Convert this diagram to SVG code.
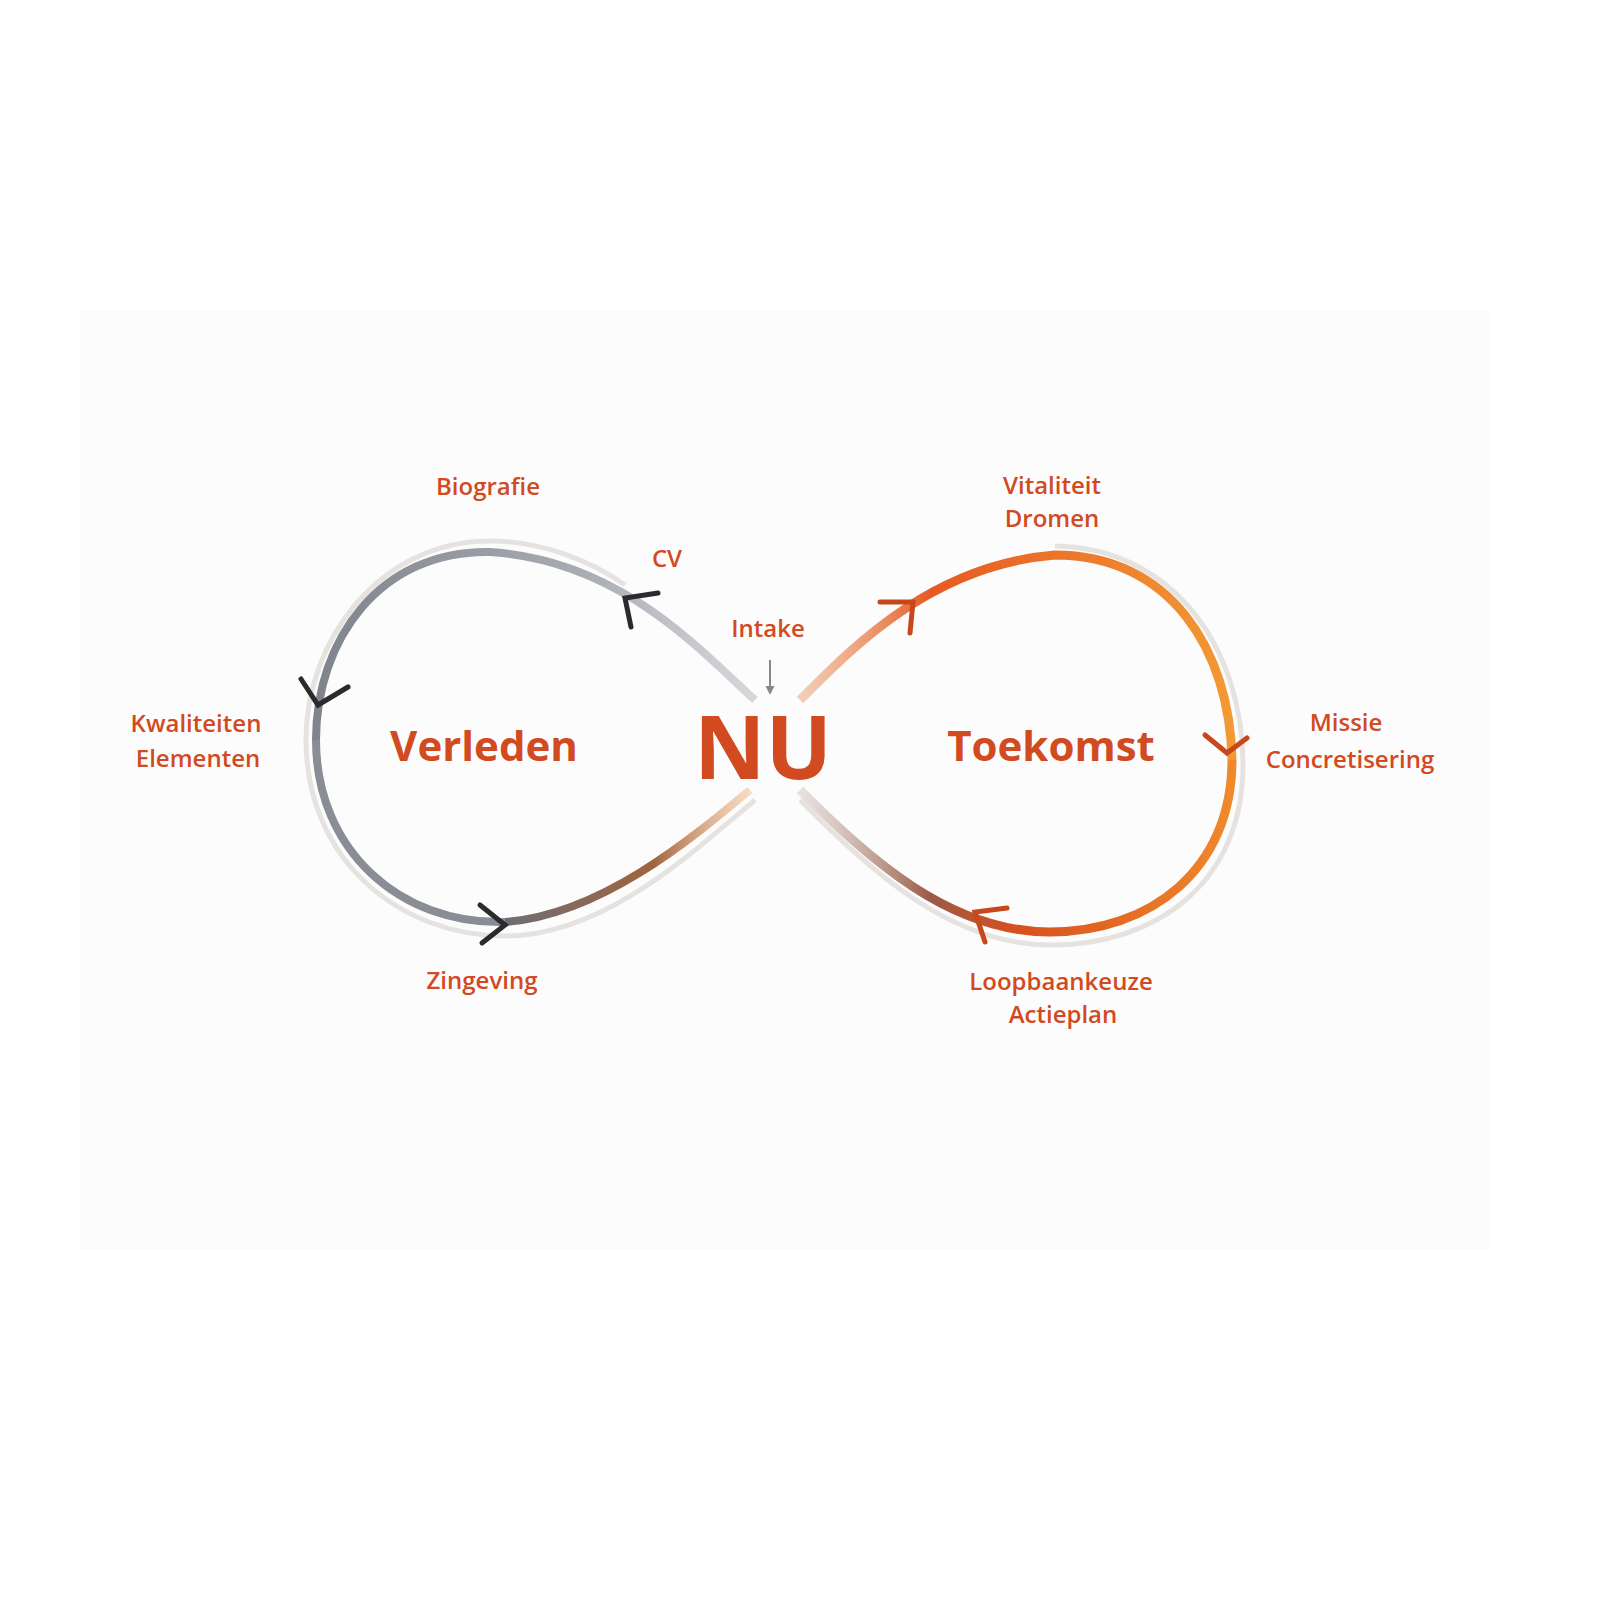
<svg xmlns="http://www.w3.org/2000/svg" width="1600" height="1600" viewBox="0 0 1600 1600">
<defs>
<style>
.lbl{font-family:"Open Sans","Liberation Sans",sans-serif;font-weight:600;font-size:24px;fill:#d24a1f;text-anchor:middle}
.big{font-family:"Open Sans","Liberation Sans",sans-serif;font-weight:700;fill:#d24a1f;text-anchor:middle}
.chev{fill:none;stroke-width:5;stroke-linecap:round;stroke-linejoin:miter}
.shadow{fill:none;stroke:#e6e2e0;stroke-width:5}
</style>
<linearGradient id="gl" x1="315" y1="0" x2="760" y2="0" gradientUnits="userSpaceOnUse">
<stop offset="0" stop-color="#7f838c"/><stop offset="0.6" stop-color="#a9acb3"/><stop offset="1" stop-color="#d8d9dc"/>
</linearGradient>
<linearGradient id="glb" x1="500" y1="0" x2="755" y2="0" gradientUnits="userSpaceOnUse">
<stop offset="0" stop-color="#6c6e76"/><stop offset="0.6" stop-color="#a0643f"/><stop offset="1" stop-color="#f3b27a" stop-opacity="0.4"/>
</linearGradient>
<linearGradient id="gr" x1="800" y1="0" x2="1235" y2="0" gradientUnits="userSpaceOnUse">
<stop offset="0" stop-color="#e9a070" stop-opacity="0.5"/><stop offset="0.3" stop-color="#e65a22"/><stop offset="1" stop-color="#f39a34"/>
</linearGradient>
<linearGradient id="grb" x1="800" y1="0" x2="1235" y2="0" gradientUnits="userSpaceOnUse">
<stop offset="0" stop-color="#c8b8b4" stop-opacity="0.4"/><stop offset="0.3" stop-color="#9b5a45"/><stop offset="0.5" stop-color="#d8501e"/><stop offset="1" stop-color="#f08a2c"/>
</linearGradient>
</defs>
<rect width="1600" height="1600" fill="#ffffff"/>
<rect x="80" y="310" width="1410" height="940" fill="#fcfcfc"/>
<g id="connectors">
<path class="shadow" d="M 625 585 C 590 560, 540 541, 490 541 C 380 541, 306 640, 306 740 C 306 860, 400 936, 505 936 C 605 936, 695 850, 755 800"/>
<path class="shadow" d="M 1055 546 C 1175 548, 1243 650, 1243 765 C 1243 880, 1160 945, 1050 945 C 950 945, 870 870, 800 800"/>
<path d="M 755 700 C 700 650, 620 560, 490 552 C 380 550, 316 640, 316 740" fill="none" stroke="url(#gl)" stroke-width="8"/>
<path d="M 316 740 C 316 850, 400 925, 505 922" fill="none" stroke="#8a8d96" stroke-width="8"/>
<path d="M 505 922 C 600 915, 690 840, 750 790" fill="none" stroke="url(#glb)" stroke-width="8"/>
<path d="M 800 700 C 850 650, 930 565, 1055 555 C 1170 555, 1230 650, 1232 760" fill="none" stroke="url(#gr)" stroke-width="9"/>
<path d="M 1232 760 C 1232 870, 1150 932, 1050 932 C 950 932, 870 860, 800 790" fill="none" stroke="url(#grb)" stroke-width="9"/>
<polyline class="chev" stroke="#2b2b2e" points="658,593 625,598 631,627"/>
<polyline class="chev" stroke="#2b2b2e" points="301,679 318,705 348,687"/>
<polyline class="chev" stroke="#2b2b2e" points="480,905 505,925 482,943"/>
<polyline class="chev" stroke="#c8481c" points="880,602 913,602 910,633"/>
<polyline class="chev" stroke="#c8481c" points="1205,735 1227,753 1247,738"/>
<polyline class="chev" stroke="#c8481c" points="1007,908 975,912 985,942"/>
<line x1="770" y1="660" x2="770" y2="690" stroke="#888" stroke-width="2"/>
<polyline points="766,686 770,694 774,686" fill="#888" stroke="#888" stroke-width="1"/>
</g>
<g id="nu"><text class="big" x="763" y="779" font-size="88">NU</text></g>
<g id="verleden"><text class="big" x="484" y="761" font-size="42">Verleden</text></g>
<g id="toekomst"><text class="big" x="1051" y="761" font-size="42">Toekomst</text></g>
<g id="intake"><text class="lbl" x="768" y="637">Intake</text></g>
<g id="biografie"><text class="lbl" x="488" y="495">Biografie</text></g>
<g id="cv"><text class="lbl" x="667" y="567">CV</text></g>
<g id="kwaliteiten"><text class="lbl" x="196" y="732">Kwaliteiten</text><text class="lbl" x="198" y="767">Elementen</text></g>
<g id="zingeving"><text class="lbl" x="482" y="989">Zingeving</text></g>
<g id="vitaliteit"><text class="lbl" x="1052" y="494">Vitaliteit</text><text class="lbl" x="1052" y="527">Dromen</text></g>
<g id="missie"><text class="lbl" x="1346" y="731">Missie</text><text class="lbl" x="1350" y="768">Concretisering</text></g>
<g id="loopbaan"><text class="lbl" x="1061" y="990">Loopbaankeuze</text><text class="lbl" x="1063" y="1023">Actieplan</text></g>
</svg>
